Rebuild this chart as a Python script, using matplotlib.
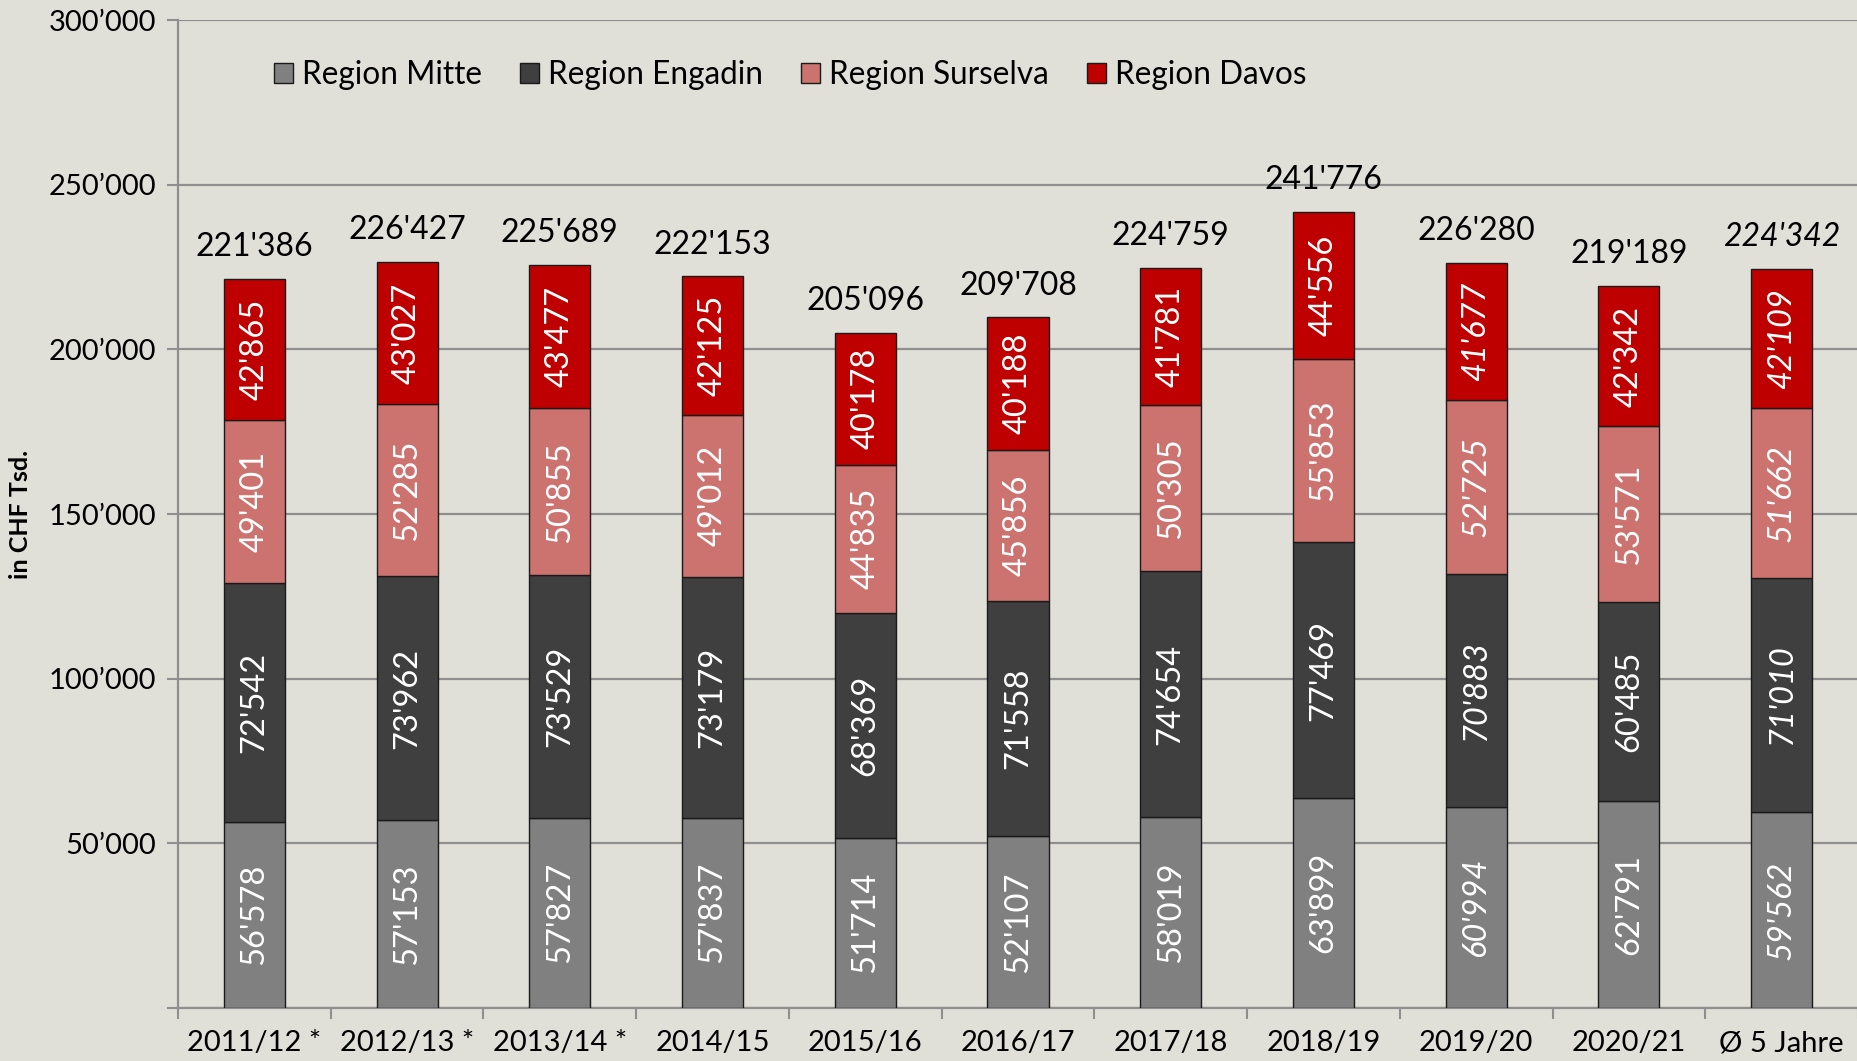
import numpy as np
import matplotlib.pyplot as plt
from matplotlib.ticker import FuncFormatter

plt.rcParams['font.family'] = ['Lato', 'DejaVu Sans']

# data (CHF Tsd.)
seasons = ['2011/12 *', '2012/13 *', '2013/14 *', '2014/15', '2015/16', '2016/17',
           '2017/18', '2018/19', '2019/20', '2020/21', 'Ø 5 Jahre']
mitte = [56578, 57153, 57827, 57837, 51714, 52107, 58019, 63899, 60994, 62791, 59562]
engadin = [72542, 73962, 73529, 73179, 68369, 71558, 74654, 77469, 70883, 60485, 71010]
surselva = [49401, 52285, 50855, 49012, 44835, 45856, 50305, 55853, 52725, 53571, 51662]
davos = [42865, 43027, 43477, 42125, 40178, 40188, 41781, 44556, 41677, 42342, 42109]
totals = [221386, 226427, 225689, 222153, 205096, 209708, 224759, 241776, 226280, 219189, 224342]

series = [('Region Mitte', mitte, '#808080'),
          ('Region Engadin', engadin, '#3f3f3f'),
          ('Region Surselva', surselva, '#cc7370'),
          ('Region Davos', davos, '#bf0000')]

italic_cols = [8, 10]   # labels drawn in italics in the original


def fmt(v):
    return f"{v:,.0f}".replace(',', "'")


bg = '#e0e0d9'
fig = plt.figure(figsize=(18.58, 10.61), dpi=100, facecolor=bg)
ax = fig.add_axes([0.0958, 0.05, 0.9042, 0.931], facecolor=bg)

x = np.arange(len(seasons))
bottom = np.zeros(len(seasons))
for name, vals, col in series:
    vals = np.array(vals)
    ax.bar(x, vals, 0.4, bottom=bottom, color=col, edgecolor='#1a1a1a',
           linewidth=1.0, label=name, zorder=3)
    for i, v in enumerate(vals):
        ax.text(x[i], bottom[i] + v / 2, fmt(v), rotation=90, ha='center', va='center',
                color='white', fontsize=23.5,
                style='italic' if i in italic_cols else 'normal', zorder=4)
    bottom += vals

for i, t in enumerate(totals):
    ax.annotate(fmt(t), (x[i], t), xytext=(0, 23), textcoords='offset points',
                ha='center', va='center', fontsize=23, color='black',
                style='italic' if i == len(totals) - 1 else 'normal')

ax.set_xlim(-0.5, len(seasons) - 0.5)
ax.set_ylim(0, 300000)
ax.set_yticks(np.arange(0, 300001, 50000))
ax.yaxis.set_major_formatter(FuncFormatter(lambda v, p: '' if v == 0 else fmt(v).replace("'", '’')))
ax.grid(axis='y', color='#8f8f8f', linewidth=1.6, zorder=0)
ax.set_axisbelow(True)

ax.set_xticks(x)
ax.set_xticklabels(seasons)
ax.set_xticks(np.arange(-0.5, len(seasons), 1.0), minor=True)
ax.tick_params(axis='x', which='major', length=0, pad=16, labelsize=21)
ax.tick_params(axis='x', which='minor', length=8, width=1.5, color='#8f8f8f')
ax.tick_params(axis='y', length=8, width=1.5, color='#8f8f8f', labelsize=21, pad=8)

for s in ['top', 'right']:
    ax.spines[s].set_visible(False)
for s in ['left', 'bottom']:
    ax.spines[s].set_color('#8f8f8f')
    ax.spines[s].set_linewidth(1.6)

fig.text(21 / 1858, 0.515, 'in CHF Tsd.', rotation=90, ha='center', va='center',
         fontsize=18, fontweight='bold')

ax.legend(loc='center left', bbox_to_anchor=(0.132, 0.929), bbox_transform=fig.transFigure,
          ncol=4, frameon=False, fontsize=22.7, handlelength=0.6, handleheight=0.6,
          handletextpad=0.3, columnspacing=1.2)

fig.savefig('out.png', dpi=100, facecolor=bg)
